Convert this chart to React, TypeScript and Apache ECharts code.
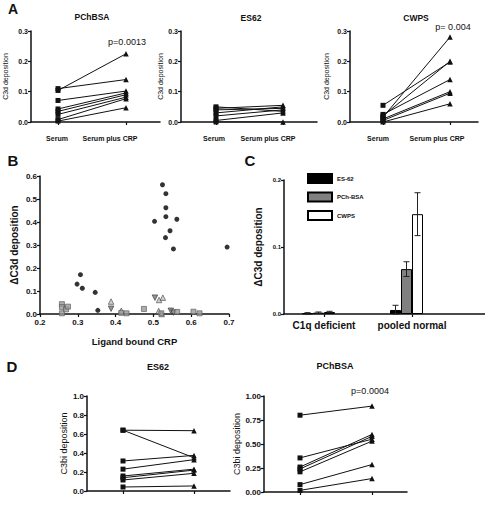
import React, { useEffect, useRef } from 'react';
import * as echarts from 'echarts';

// ---------- Panel A (C3d deposition, paired) ----------
const A_PCH_SERUM = [0.104, 0.11, 0.071, 0.043, 0.035, 0.025, 0.008, 0.003];
const A_PCH_CRP = [0.225, 0.14, 0.102, 0.096, 0.09, 0.082, 0.077, 0.047];
const A_ES62_SERUM = [0.05, 0.045, 0.04, 0.03, 0.02, 0.005, 0.0];
const A_ES62_CRP = [0.035, 0.055, 0.045, 0.05, 0.04, 0.03, 0.0];
const A_CWPS_SERUM = [0.016, 0.055, 0.02, 0.025, 0.01, 0.005, 0.0];
const A_CWPS_CRP = [0.28, 0.198, 0.2, 0.14, 0.1, 0.095, 0.06];
const A_CATS = ['Serum', 'Serum plus CRP'];

// ---------- Panel B (scatter) ----------
const B_CIRCLE_X = [0.524, 0.533, 0.533, 0.533, 0.503, 0.562, 0.544, 0.532, 0.553, 0.695, 0.307, 0.298, 0.312, 0.346, 0.353];
const B_CIRCLE_Y = [0.562, 0.523, 0.462, 0.423, 0.403, 0.412, 0.362, 0.332, 0.283, 0.291, 0.171, 0.13, 0.112, 0.094, 0.016];
const B_TRIUP_X = [0.388, 0.415, 0.515, 0.525, 0.514, 0.522];
const B_TRIUP_Y = [0.054, 0.014, 0.061, 0.071, 0.013, 0.0];
const B_TRIDN_X = [0.388, 0.504, 0.546, 0.553];
const B_TRIDN_Y = [0.023, 0.071, 0.014, 0.006];
const B_SQ_X = [0.258, 0.258, 0.258, 0.269, 0.274, 0.415, 0.429, 0.475, 0.521, 0.563, 0.606, 0.622];
const B_SQ_Y = [0.043, 0.03, 0.003, 0.02, 0.032, 0.005, 0.003, 0.022, 0.003, 0.009, 0.01, 0.003];

// ---------- Panel C (bars) ----------
const C_CATS = ['C1q deficient', 'pooled normal'];
const C_ES62 = [0.001, 0.006];
const C_ES62_ERR = [0.001, 0.007];
const C_PCH = [0.002, 0.067];
const C_PCH_ERR = [0.001, 0.011];
const C_CWPS = [0.003, 0.149];
const C_CWPS_ERR = [0.001, 0.032];

// ---------- Panel D (C3bi deposition, paired) ----------
const D_ES62_SERUM = [0.64, 0.64, 0.316, 0.23, 0.158, 0.14, 0.116, 0.042];
const D_ES62_CRP = [0.635, 0.35, 0.375, 0.33, 0.23, 0.22, 0.186, 0.053];
const D_PCH_SERUM = [0.8, 0.355, 0.26, 0.24, 0.21, 0.077, 0.017];
const D_PCH_CRP = [0.895, 0.55, 0.6, 0.58, 0.53, 0.286, 0.14];

const FONT = '"Liberation Sans", Arial, sans-serif';
const INK = '#111';

function pairedX(gridIndex: number, min: number, max: number) {
  return {
    type: 'value', gridIndex, min, max,
    axisLine: { show: true, onZero: false, lineStyle: { color: INK, width: 1.5 } },
    axisTick: { show: true, customValues: [0, 1], length: 3, lineStyle: { color: INK, width: 1.2 } },
    axisLabel: { show: false },
    splitLine: { show: false },
  };
}

function valueY(gridIndex: number, max: number, interval: number, dec: number, fontSize: number,
  name: string, nameGap: number, nameSize: number, nameWeight: string) {
  return {
    type: 'value', gridIndex, min: 0, max, interval,
    axisLine: { show: true, onZero: false, lineStyle: { color: INK, width: 1.5 } },
    axisTick: { show: true, length: 3, lineStyle: { color: INK, width: 1.2 } },
    axisLabel: { fontSize, fontWeight: 'bold', color: INK, fontFamily: FONT, margin: 3, formatter: (v: number) => v.toFixed(dec) },
    splitLine: { show: false },
    name, nameLocation: 'middle', nameGap,
    nameTextStyle: { fontSize: nameSize, fontWeight: nameWeight, color: INK, fontFamily: FONT },
  };
}

function pairSeries(serum: number[], crp: number[], idx: number) {
  return serum.map((s, i) => ({
    type: 'line', xAxisIndex: idx, yAxisIndex: idx, silent: true,
    showSymbol: true, showAllSymbol: true,
    data: [
      { value: [0, s], symbol: 'rect', symbolSize: 5 },
      { value: [1, crp[i]], symbol: 'triangle', symbolSize: 5.5 },
    ],
    itemStyle: { color: INK },
    lineStyle: { color: INK, width: 1 },
  }));
}

function txt(text: string, x: number, y: number, fontSize: number, fontWeight = 'bold') {
  return {
    type: 'text', x, y, silent: true,
    style: { text, align: 'center', verticalAlign: 'middle', fontSize, fontWeight, fontFamily: FONT, fill: INK },
  };
}

function zip(xs: number[], ys: number[]) {
  return xs.map((x, i) => [x, ys[i]]);
}

const BAR_OFFSETS = [-16.5, -5.5, 5.5];

function buildOption() {
  const errData: number[][] = [];
  const groups = [[C_ES62, C_ES62_ERR], [C_PCH, C_PCH_ERR], [C_CWPS, C_CWPS_ERR]];
  groups.forEach(([vals, errs], k) => {
    vals.forEach((v, c) => errData.push([c, Math.max(0, v - errs[c]), v + errs[c], k]));
  });

  return {
    animation: false,
    textStyle: { fontFamily: FONT },
    grid: [
      { left: 31, top: 31, width: 129, height: 91, outerBoundsMode: 'none' },
      { left: 181, top: 31, width: 136, height: 91, outerBoundsMode: 'none' },
      { left: 350, top: 31, width: 128, height: 91, outerBoundsMode: 'none' },
      { left: 40, top: 176, width: 189, height: 138, outerBoundsMode: 'none' },
      { left: 284, top: 180, width: 201, height: 134, outerBoundsMode: 'none' },
      { left: 280, top: 180, width: 176, height: 134, outerBoundsMode: 'none' },
      { left: 87, top: 396, width: 143, height: 95, outerBoundsMode: 'none' },
      { left: 264, top: 396, width: 143, height: 96, outerBoundsMode: 'none' },
    ],
    xAxis: [
      pairedX(0, (31 - 58) / 68, (160 - 58) / 68),
      pairedX(1, (181 - 216) / 67, (317 - 216) / 67),
      pairedX(2, (350 - 383) / 67, (478 - 383) / 67),
      {
        type: 'value', gridIndex: 3, min: 0.2, max: 0.7, interval: 0.1,
        axisLine: { show: true, onZero: false, lineStyle: { color: INK, width: 1.5 } },
        axisTick: { show: true, length: 3, lineStyle: { color: INK, width: 1.2 } },
        axisLabel: { fontSize: 8, fontWeight: 'bold', color: INK, fontFamily: FONT, margin: 4, formatter: (v: number) => v.toFixed(1) },
        splitLine: { show: false },
        name: 'Ligand bound CRP', nameLocation: 'middle', nameGap: 22,
        nameTextStyle: { fontSize: 9.5, fontWeight: 'bold', color: INK, fontFamily: FONT },
      },
      {
        type: 'value', gridIndex: 4, min: 0, max: 1,
        axisLine: { show: true, onZero: false, lineStyle: { color: INK, width: 1.5 } },
        axisTick: { show: false }, axisLabel: { show: false }, splitLine: { show: false },
      },
      {
        type: 'category', gridIndex: 5, data: C_CATS,
        axisLine: { show: false },
        axisTick: { show: true, alignWithLabel: true, interval: 0, length: 3, lineStyle: { color: INK, width: 1.2 } },
        axisLabel: { interval: 0, hideOverlap: false, fontSize: 10, fontWeight: 'bold', color: INK, fontFamily: FONT, margin: 6 },
        splitLine: { show: false },
      },
      pairedX(6, (87 - 123) / 71, (230 - 123) / 71),
      pairedX(7, (264 - 300) / 72, (407 - 300) / 72),
    ],
    yAxis: [
      valueY(0, 0.3, 0.1, 1, 7, 'C3d deposition', 22, 7, 'normal'),
      valueY(1, 0.3, 0.1, 1, 7, 'C3d deposition', 14.5, 7, 'normal'),
      valueY(2, 0.3, 0.1, 1, 7, 'C3d deposition', 20.5, 7, 'normal'),
      valueY(3, 0.6, 0.1, 1, 8, 'ΔC3d deposition', 21, 10, 'bold'),
      valueY(4, 0.2, 0.1, 1, 6, 'ΔC3d deposition', 21, 10, 'bold'),
      { type: 'value', gridIndex: 5, min: 0, max: 0.2, show: false },
      valueY(6, 1.0, 0.2, 1, 8, 'C3bi deposition', 15.5, 9, 'normal'),
      valueY(7, 1.0, 0.25, 2, 8, 'C3bi deposition', 17.5, 9, 'normal'),
    ],
    legend: {
      data: ['ES-62', 'PCh-BSA', 'CWPS'], orient: 'vertical', left: 302, top: 168,
      itemWidth: 24, itemHeight: 9, itemGap: 7.5, icon: 'rect', selectedMode: false,
      textStyle: { fontSize: 6, fontWeight: 'bold', color: INK, fontFamily: FONT },
    },
    series: [
      ...pairSeries(A_PCH_SERUM, A_PCH_CRP, 0),
      ...pairSeries(A_ES62_SERUM, A_ES62_CRP, 1),
      ...pairSeries(A_CWPS_SERUM, A_CWPS_CRP, 2),
      {
        type: 'scatter', xAxisIndex: 3, yAxisIndex: 3, symbol: 'circle', symbolSize: 5,
        data: zip(B_CIRCLE_X, B_CIRCLE_Y), itemStyle: { color: '#000' },
      },
      {
        type: 'scatter', xAxisIndex: 3, yAxisIndex: 3, symbol: 'triangle', symbolSize: 5.5,
        data: zip(B_TRIUP_X, B_TRIUP_Y), itemStyle: { color: '#c4c4c4', borderColor: '#444', borderWidth: 0.8 },
      },
      {
        type: 'scatter', xAxisIndex: 3, yAxisIndex: 3, symbol: 'triangle', symbolRotate: 180, symbolSize: 5.5,
        data: zip(B_TRIDN_X, B_TRIDN_Y), itemStyle: { color: '#7a7a7a', borderColor: '#333', borderWidth: 0.8 },
      },
      {
        type: 'scatter', xAxisIndex: 3, yAxisIndex: 3, symbol: 'rect', symbolSize: 5,
        data: zip(B_SQ_X, B_SQ_Y), itemStyle: { color: '#9a9a9a', borderColor: '#555', borderWidth: 0.8 },
      },
      {
        type: 'bar', name: 'ES-62', xAxisIndex: 5, yAxisIndex: 5, data: C_ES62, barWidth: 11, barGap: '0%',
        itemStyle: { color: '#000', borderColor: '#000', borderWidth: 1 },
      },
      {
        type: 'bar', name: 'PCh-BSA', xAxisIndex: 5, yAxisIndex: 5, data: C_PCH, barWidth: 11, barGap: '0%',
        itemStyle: { color: '#808080', borderColor: '#000', borderWidth: 1 },
      },
      {
        type: 'bar', name: 'CWPS', xAxisIndex: 5, yAxisIndex: 5, data: C_CWPS, barWidth: 11, barGap: '0%',
        itemStyle: { color: '#fff', borderColor: '#000', borderWidth: 1 },
      },
      {
        type: 'bar', name: 'pad', xAxisIndex: 5, yAxisIndex: 5, data: ['-', '-'], barWidth: 11, barGap: '0%',
        itemStyle: { color: 'transparent' },
      },
      {
        type: 'custom', xAxisIndex: 5, yAxisIndex: 5, data: errData, z: 5, silent: true,
        renderItem: (_params: any, api: any) => {
          const cat = api.value(0);
          const lo = api.value(1);
          const hi = api.value(2);
          const k = api.value(3);
          const pLo = api.coord([cat, lo]);
          const pHi = api.coord([cat, hi]);
          const x = pLo[0] + BAR_OFFSETS[k];
          const st = { stroke: '#222', lineWidth: 1 };
          return {
            type: 'group',
            children: [
              { type: 'line', shape: { x1: x, y1: pLo[1], x2: x, y2: pHi[1] }, style: st },
              { type: 'line', shape: { x1: x - 3, y1: pHi[1], x2: x + 3, y2: pHi[1] }, style: st },
              { type: 'line', shape: { x1: x - 3, y1: pLo[1], x2: x + 3, y2: pLo[1] }, style: st },
            ],
          };
        },
      },
      ...pairSeries(D_ES62_SERUM, D_ES62_CRP, 6),
      ...pairSeries(D_PCH_SERUM, D_PCH_CRP, 7),
    ],
    graphic: [
      txt('A', 13, 9, 14),
      txt('B', 13, 160, 15),
      txt('C', 250, 160, 15),
      txt('D', 12, 366, 15),
      txt('PChBSA', 92, 17, 8.5),
      txt('ES62', 251, 18, 8.5),
      txt('CWPS', 416, 18, 8.5),
      txt('p=0.0013', 127, 42, 9, 'normal'),
      txt('p= 0.004', 453, 27, 9, 'normal'),
      txt(A_CATS[0], 57, 138, 7),
      txt(A_CATS[1], 110, 138, 7),
      txt(A_CATS[0], 214, 138, 7),
      txt(A_CATS[1], 268, 138, 7),
      txt(A_CATS[0], 378, 138, 7),
      txt(A_CATS[1], 437, 138, 7),
      txt('ES62', 158, 367, 9),
      txt('PChBSA', 335, 366, 9),
      txt('p=0.0004', 370, 391, 9, 'normal'),
    ],
  };
}

export default function App() {
  const ref = useRef<HTMLDivElement>(null);
  useEffect(() => {
    document.body.style.margin = '0';
    const chart = echarts.init(ref.current!, null, { renderer: 'svg' });
    chart.setOption(buildOption() as any);
    return () => chart.dispose();
  }, []);
  return <div ref={ref} style={{ width: 485, height: 505, background: '#fff' }} />;
}
